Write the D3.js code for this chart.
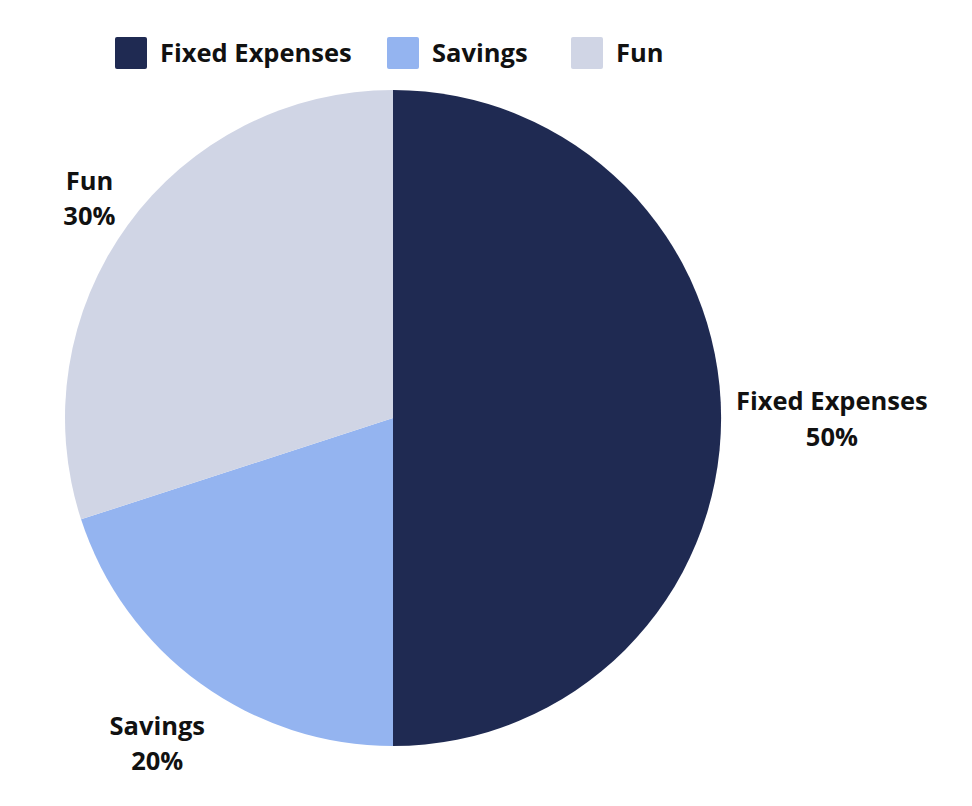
<!DOCTYPE html>
<html>
<head>
<meta charset="utf-8">
<script src="https://cdn.jsdelivr.net/npm/d3@7"></script>
<style>
  body { margin: 0; background: #fff; }
  text { font-family: "Open Sans", sans-serif; font-weight: 700; fill: #111; }
</style>
</head>
<body>
<div id="chart-area"></div>
<script>
// data
var categories = ["Fixed Expenses", "Savings", "Fun"];
var values = [50, 20, 30];
var colors = ["#1f2a52", "#94b4f0", "#d0d5e5"];

var width = 972, height = 806;
var cx = 393, cy = 418, radius = 328;

var svg = d3.select("#chart-area")
  .append("svg")
  .attr("width", width)
  .attr("height", height);

var color = d3.scaleOrdinal().domain(categories).range(colors);

// legend
var legendX = [115, 387, 571];
var legend = svg.append("g").selectAll("g")
  .data(categories)
  .enter()
  .append("g")
  .attr("transform", function(d, i) { return "translate(" + legendX[i] + ",37)"; });

legend.append("rect")
  .attr("width", 32)
  .attr("height", 32)
  .attr("rx", 2)
  .style("fill", function(d) { return color(d); });

legend.append("text")
  .attr("x", 45)
  .attr("y", 25)
  .attr("font-size", "25.5px")
  .text(function(d) { return d; });

// pie
var pieData = categories.map(function(c, i) { return { name: c, value: values[i] }; });
var pie = d3.pie().sort(null).value(function(d) { return d.value; });
var arc = d3.arc().innerRadius(0).outerRadius(radius);

var g = svg.append("g").attr("transform", "translate(" + cx + "," + cy + ")");

var arcs = pie(pieData);

g.selectAll("path")
  .data(arcs)
  .enter()
  .append("path")
  .attr("d", arc)
  .style("fill", function(d) { return color(d.data.name); });

// labels outside the pie
var total = d3.sum(values);
var labels = g.selectAll("g.label")
  .data(arcs)
  .enter()
  .append("g")
  .attr("class", "label");

labels.each(function(d) {
  var el = d3.select(this);
  var t = el.append("text")
    .attr("text-anchor", "middle")
    .attr("font-size", "25.5px");
  t.append("tspan").attr("x", 0).attr("dy", 0).text(d.data.name);
  t.append("tspan").attr("x", 0).attr("dy", "1.4em").text(Math.round(d.data.value / total * 100) + "%");

  var box = t.node().getBBox();
  var a = (d.startAngle + d.endAngle) / 2;
  var dx = Math.sin(a), dy = -Math.cos(a);
  var pad = 15 + (dy > 0.01 ? 15 : 0);
  var px = dx * (radius + pad), py = dy * (radius + pad);
  var s = Math.min(Math.abs(dx) > 1e-6 ? box.width / 2 / Math.abs(dx) : Infinity,
                   Math.abs(dy) > 1e-6 ? box.height / 2 / Math.abs(dy) : Infinity);
  var mx = px + dx * s, my = py + dy * s;
  var bcx = box.x + box.width / 2, bcy = box.y + box.height / 2;
  el.attr("transform", "translate(" + (mx - bcx) + "," + (my - bcy) + ")");
});
</script>
</body>
</html>
